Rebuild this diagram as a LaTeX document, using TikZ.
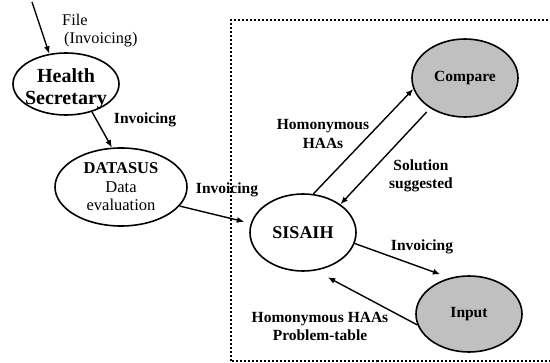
\documentclass[tikz,border=0pt]{standalone}
\usepackage{fontspec}
\setmainfont{Liberation Serif}
\usetikzlibrary{shapes.geometric,arrows.meta}
\definecolor{silverg}{RGB}{192,192,192}
\begin{document}
\begin{tikzpicture}[x=1pt,y=-1pt,
  ell/.style={ellipse,draw,line width=1.6pt,inner sep=0pt,align=center,
    font=\fontsize{15.5}{18.5}\selectfont},
  grayell/.style={ell,fill=silverg},
  arr/.style={line width=1.4pt,-{Latex[length=7.5pt,width=6pt]}},
  lbl/.style={font=\bfseries\fontsize{15.5}{18.5}\selectfont,align=center,inner sep=0pt},
  txt/.style={font=\fontsize{16.3}{18}\selectfont,inner sep=0pt},
  frame/.style={line width=2pt,dash pattern=on 2pt off 2pt},
]
\useasboundingbox (0,0) rectangle (550,363);

% dotted frame
\draw[frame] (580,20) -- (231,20) -- (231,361.5) -- (580,361.5);

% nodes
\node[ell,minimum width=106pt,minimum height=62pt] (hs) at (66,84) {};
\node[align=center,inner sep=0pt,font=\bfseries\fontsize{20}{22}\selectfont] (hstext) at (66,89)
  {Health\\Secretary};
\node[ell,minimum width=132pt,minimum height=78pt,font=\fontsize{16.5}{18.5}\selectfont] (ds) at (121,187)
  {\bfseries DATASUS\\Data\\evaluation};
\node[ell,minimum width=106pt,minimum height=77pt,font=\bfseries\fontsize{18}{20}\selectfont] (sis) at (303,232.5) {SISAIH};
\node[grayell,minimum width=106pt,minimum height=78pt] (cmp) at (465,78) {\bfseries Compare};
\node[grayell,minimum width=106pt,minimum height=76pt] (inp) at (469,314) {\bfseries Input};

% connectors
\coordinate (src) at (32,2);
\draw[arr] (src) -- (hs.119);
\draw[arr] (hs.-47) -- (ds.103);
\draw[arr,shorten >=6.5pt] (ds.-18) -- (sis.170);
\draw[arr] (sis.75) -- (cmp.192);
\draw[arr,shorten <=5pt] (cmp.221) -- (sis.37);
\draw[arr,shorten >=10pt] (sis.-12) -- (inp.118);
\draw[arr,shorten >=14pt] (inp.192) -- (sis.-72);

% labels
\node[txt,anchor=west,align=left] (filelbl) at (62,31) {File\\\hspace{2pt}(Invoicing)};
\node[lbl] (l1) at (145,120) {Invoicing};
\node[lbl] (l2) at (227,190) {Invoicing};
\node[lbl] (l3) at (323,134) {Homonymous\\HAAs};
\node[lbl] (l4) at (421,176) {Solution\\suggested};
\node[lbl] (l5) at (422,247) {Invoicing};
\node[lbl] (l6) at (320,326.5) {Homonymous HAAs\\Problem-table};
\end{tikzpicture}
\end{document}
